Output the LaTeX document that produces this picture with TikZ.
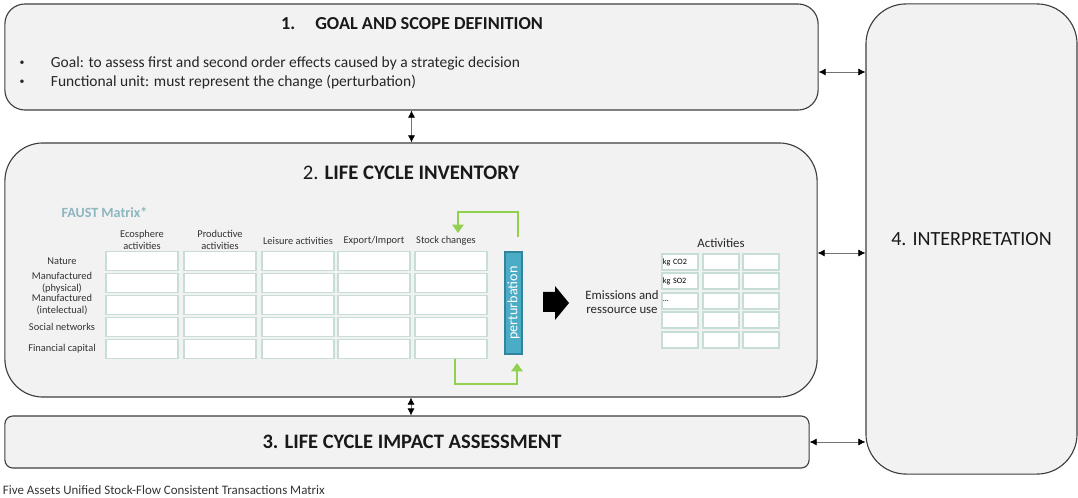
\documentclass[tikz,border=0pt]{standalone}
\usepackage{fontspec}
\setmainfont{Carlito}
\usepackage{tikz}
\usetikzlibrary{arrows.meta}
\definecolor{boxgray}{HTML}{F2F2F2}
\definecolor{edgegray}{HTML}{3F3F3F}
\definecolor{cellgreen}{HTML}{C6DED5}
\definecolor{loopgreen}{HTML}{92D050}
\definecolor{pertteal}{HTML}{4BACC6}
\definecolor{pertedge}{HTML}{31849B}
\definecolor{faustblue}{HTML}{8DB6BF}
\tikzset{
	boxstyle/.style={rectangle,draw=edgegray,fill=boxgray,line width=0.8pt,inner sep=0pt},
	titlestyle/.style={text=black!90,font=\fontsize{13}{15}\selectfont\bfseries},
	bodystyle/.style={text=black!85,font=\fontsize{11}{13}\selectfont},
	cellstyle/.style={rectangle,draw=cellgreen,fill=white,line width=0.9pt,minimum width=1.8cm,minimum height=0.475cm,inner sep=0pt},
	actstyle/.style={rectangle,draw=cellgreen,fill=white,line width=0.9pt,text width=0.86cm,minimum height=0.4cm,inner xsep=0.02cm,inner ysep=0pt,align=left,font=\fontsize{5.8}{6}\selectfont},
	headstyle/.style={align=center,text=black!80,font=\fontsize{7.4}{8.4}\selectfont,inner sep=0pt},
	pertstyle/.style={rectangle,draw=pertedge,fill=pertteal,line width=1pt,text=white,rotate=90,minimum width=2.55cm,minimum height=0.425cm,inner sep=0pt,font=\fontsize{10.1}{11}\selectfont},
	linkstyle/.style={draw=black!55,line width=0.5pt,>={Latex[black,length=5pt,width=5pt]},<->},
	loopstyle/.style={draw=loopgreen,line width=2.1pt,>={Triangle[length=6pt,width=8pt]},->}
}
\begin{document}
\begin{tikzpicture}[x=0.025cm,y=-0.025cm]
		\useasboundingbox (0,0) rectangle (1078,498);
		% the four phases
		\node[boxstyle,minimum width=20.325cm,minimum height=2.65cm,rounded corners=0.5cm] (goal) at (411.5,57) {};
		\node[boxstyle,minimum width=20.3cm,minimum height=6.35cm,rounded corners=0.95cm] (lci) at (411,270) {};
		\node[boxstyle,minimum width=20.1cm,minimum height=1.3cm,rounded corners=0.2cm,titlestyle,font=\fontsize{14.6}{17}\selectfont\bfseries] (lcia) at (407,442) {\hspace{0.25cm}3. LIFE CYCLE IMPACT ASSESSMENT};
		\node[boxstyle,minimum width=5.275cm,minimum height=11.75cm,rounded corners=1cm,titlestyle,font=\fontsize{14.3}{16}\selectfont] (interp) at (971.5,239) {4. INTERPRETATION};
		\node[titlestyle] (goaltitle) at (412,24) {1.\hspace{1.1em}GOAL AND SCOPE DEFINITION};
		\node[bodystyle,font=\fontsize{7}{8}\selectfont] (bul1) at (22,63) {\textbullet};
		\node[bodystyle,font=\fontsize{7}{8}\selectfont] (bul2) at (22,82) {\textbullet};
		\node[bodystyle,anchor=west] (goaltext) at (46,63) {Goal: to assess first and second order effects caused by a strategic decision};
		\node[bodystyle,anchor=west] (unittext) at (46,82) {Functional unit: must represent the change (perturbation)};
		\node[titlestyle,font=\fontsize{14.7}{17}\selectfont] (lcititle) at (411,173) {\mdseries 2. \bfseries LIFE CYCLE INVENTORY};
		\draw[linkstyle] (goal.south) -- (goal.south |- lci.north);
		\draw[linkstyle] (lci.south) -- (lci.south |- lcia.north);
		\draw[linkstyle] ([yshift=-0.375cm]goal.east) -- ([yshift=-0.375cm]goal.east -| interp.west);
		\draw[linkstyle] ([yshift=0.425cm]lci.east) -- ([yshift=0.425cm]lci.east -| interp.west);
		\draw[linkstyle] (lcia.east) -- (lcia.east -| interp.west);
		% FAUST matrix
		\node[text=faustblue,font=\fontsize{10}{12}\selectfont\bfseries] (faust) at (104.5,213) {FAUST Matrix*};
		\node[headstyle] (h1) at (142,240) {Ecosphere\\activities};
		\node[headstyle] (h2) at (220,240) {Productive\\activities};
		\node[headstyle] (h3) at (298,241) {Leisure activities};
		\node[headstyle] (h4) at (374,241) {Export/Import};
		\node[headstyle] (h5) at (446,241) {Stock changes};
		\node[headstyle] (r1) at (62,261) {Nature};
		\node[headstyle] (r2) at (62,283) {Manufactured\\(physical)};
		\node[headstyle] (r3) at (62,305) {Manufactured\\(intelectual)};
		\node[headstyle] (r4) at (62,327) {Social networks};
		\node[headstyle] (r5) at (62,349) {Financial capital};
		\node[cellstyle] (c11) at (142,261) {};
		\node[cellstyle] (c12) at (220,261) {};
		\node[cellstyle] (c13) at (298,261) {};
		\node[cellstyle] (c14) at (374,261) {};
		\node[cellstyle] (c15) at (451,261) {};
		\node[cellstyle] (c21) at (142,283) {};
		\node[cellstyle] (c22) at (220,283) {};
		\node[cellstyle] (c23) at (298,283) {};
		\node[cellstyle] (c24) at (374,283) {};
		\node[cellstyle] (c25) at (451,283) {};
		\node[cellstyle] (c31) at (142,305) {};
		\node[cellstyle] (c32) at (220,305) {};
		\node[cellstyle] (c33) at (298,305) {};
		\node[cellstyle] (c34) at (374,305) {};
		\node[cellstyle] (c35) at (451,305) {};
		\node[cellstyle] (c41) at (142,327) {};
		\node[cellstyle] (c42) at (220,327) {};
		\node[cellstyle] (c43) at (298,327) {};
		\node[cellstyle] (c44) at (374,327) {};
		\node[cellstyle] (c45) at (451,327) {};
		\node[cellstyle] (c51) at (142,349) {};
		\node[cellstyle] (c52) at (220,349) {};
		\node[cellstyle] (c53) at (298,349) {};
		\node[cellstyle] (c54) at (374,349) {};
		\node[cellstyle] (c55) at (451,349) {};
		% perturbation loop
		\node[pertstyle] (pert) at (513.5,303) {perturbation};
		\coordinate (ptop) at (518,237);
		\coordinate (stop) at (458,233);
		\coordinate (sbot) at (455,359);
		\coordinate (pbot) at (517,363);
		\draw[loopstyle] (ptop) -- (518,212) -| (stop);
		\draw[loopstyle] (sbot) -- (455,384) -| (pbot);
		\fill[black] (543,292) -- (555,292) -- (555,286) -- (569,303) -- (555,320) -- (555,312) -- (543,312) -- cycle;
		% activities
		\node[text=black!85,align=center,font=\fontsize{9.1}{9.5}\selectfont] (emis) at (622,302) {Emissions and\\ressource use};
		\node[text=black!85,font=\fontsize{9.1}{10}\selectfont] (acts) at (721,243) {Activities};
		\node[actstyle] (a11) at (680,262) {kg CO2};
		\node[actstyle] (a12) at (721,262) {};
		\node[actstyle] (a13) at (761,262) {};
		\node[actstyle] (a21) at (680,281) {kg SO2};
		\node[actstyle] (a22) at (721,281) {};
		\node[actstyle] (a23) at (761,281) {};
		\node[actstyle] (a31) at (680,301) {...};
		\node[actstyle] (a32) at (721,301) {};
		\node[actstyle] (a33) at (761,301) {};
		\node[actstyle] (a41) at (680,320) {};
		\node[actstyle] (a42) at (721,320) {};
		\node[actstyle] (a43) at (761,320) {};
		\node[actstyle] (a51) at (680,340) {};
		\node[actstyle] (a52) at (721,340) {};
		\node[actstyle] (a53) at (761,340) {};
		\node[anchor=west,text=black!80,font=\fontsize{9.2}{10}\selectfont] (footnote) at (-2,490) {Five Assets Unified Stock-Flow Consistent Transactions Matrix};
\end{tikzpicture}
\end{document}
